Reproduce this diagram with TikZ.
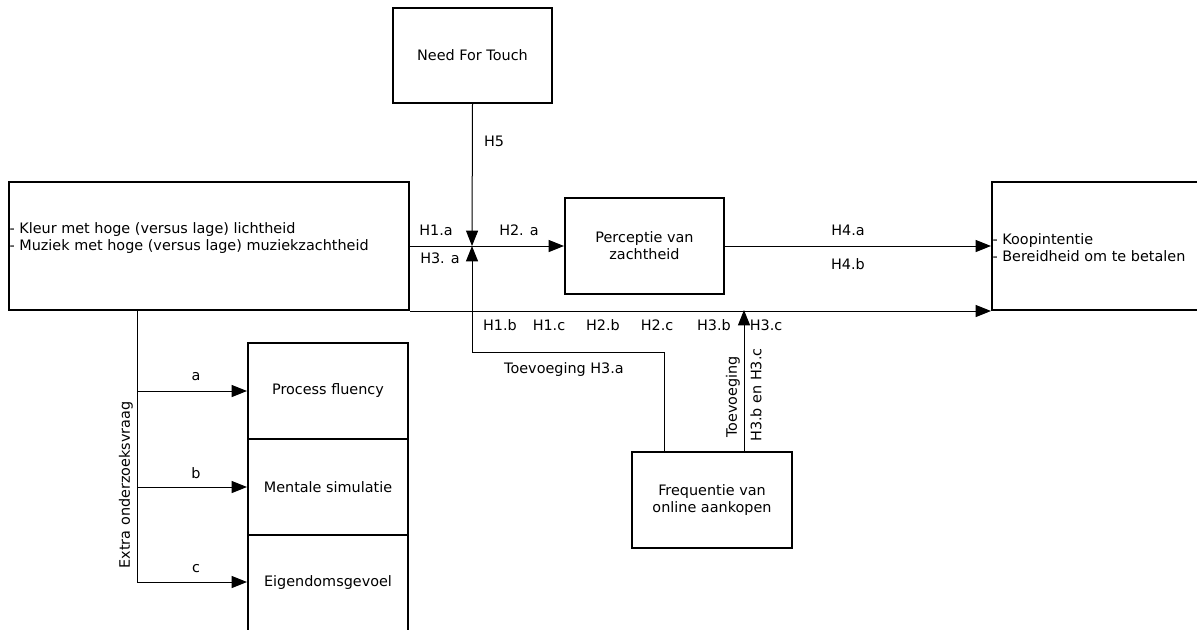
\documentclass[tikz,border=0pt]{standalone}
\usepackage{fontspec}
\setmainfont{DejaVu Sans}
\usetikzlibrary{arrows.meta}
\begin{document}
\begin{tikzpicture}[x=0.75pt,y=-0.75pt,
  font=\fontsize{10.8}{12.75}\selectfont,
  box/.style={draw, line width=1.5pt, inner sep=0pt, align=center},
  conn/.style={line width=0.75pt, -{Triangle[length=11.5pt,width=9pt]}},
  plain/.style={line width=0.75pt},
  lbl/.style={inner sep=0pt}]
\useasboundingbox (0,0) rectangle (1197,629);
\clip (0,0) rectangle (1197,629);

% boxes
\node[box, minimum width=119.25pt, minimum height=71.25pt] (nft) at (472.5,55.5) {Need For Touch};
\node[box, minimum width=300pt, minimum height=96pt,
  label={[anchor=west, inner sep=1pt, yshift=6pt, align=left]west:- Kleur met hoge (versus lage) lichtheid\\- Muziek met hoge (versus lage) muziekzachtheid}] (src) at (209,246) {};
\node[box, minimum width=119.25pt, minimum height=72pt] (perc) at (644.5,246) {Perceptie van\\zachtheid};
\node[box, minimum width=237pt, minimum height=96pt,
  label={[anchor=west, inner sep=1pt, yshift=-1pt, align=left]west:- Koopintentie\\- Bereidheid om te betalen}] (out) at (1150,246) {};
\node[box, minimum width=120pt, minimum height=72pt] (pf) at (328,391) {Process fluency};
\node[box, minimum width=120pt, minimum height=72pt] (ms) at (328,487) {Mentale simulatie};
\node[box, minimum width=120pt, minimum height=75pt] (eg) at (328,585) {};
\node[lbl] at (328,583) {Eigendomsgevoel};
\node[box, minimum width=120pt, minimum height=72pt] (freq) at (712,500) {Frequentie van\\online aankopen};

% junction points
\coordinate (j) at (472,246);
\coordinate (k) at (472,352);
\coordinate (m) at (664,352);
\coordinate (t) at (744,310);
\coordinate (s) at (137,310);
\coordinate (se) at (137,582);

% main connectors
\draw[conn] (nft.south) -- (j);
\draw[conn] (src.east) -- (perc.west);
\draw[conn] (m |- freq.north) -- (m) -- (k) -- (j);
\draw[conn] (perc.east) -- (out.west);
\draw[conn] (src.south east) -- (out.south west);
\draw[conn] (t |- freq.north) -- (t);

% extra research question branch
\draw[plain] (s) -- (se);
\draw[conn] (s |- pf.west) -- (pf.west);
\draw[conn] (s |- ms.west) -- (ms.west);
\draw[conn] (se) -- (se -| eg.west);

% hypothesis labels
\node[lbl] at (494,141) {H5};
\node[lbl] at (436,230) {H1.a};
\node[lbl] at (519,230) {H2. a};
\node[lbl] at (440,258) {H3. a};
\node[lbl] at (848,230) {H4.a};
\node[lbl] at (848,264) {H4.b};
\node[lbl] at (500,325) {H1.b};
\node[lbl] at (549,325) {H1.c};
\node[lbl] at (603,325) {H2.b};
\node[lbl] at (657,325) {H2.c};
\node[lbl] at (714,325) {H3.b};
\node[lbl] at (766,325) {H3.c};
\node[lbl] at (564,370) {Toevoeging H3.a};
\node[lbl, rotate=90] at (733,397) {Toevoeging};
\node[lbl, rotate=90] at (756,395) {H3.b en H3.c};
\node[lbl] at (196,377) {a};
\node[lbl] at (196,473) {b};
\node[lbl] at (196,569) {c};
\node[lbl, rotate=90] at (126,485) {Extra onderzoeksvraag};
\end{tikzpicture}
\end{document}
